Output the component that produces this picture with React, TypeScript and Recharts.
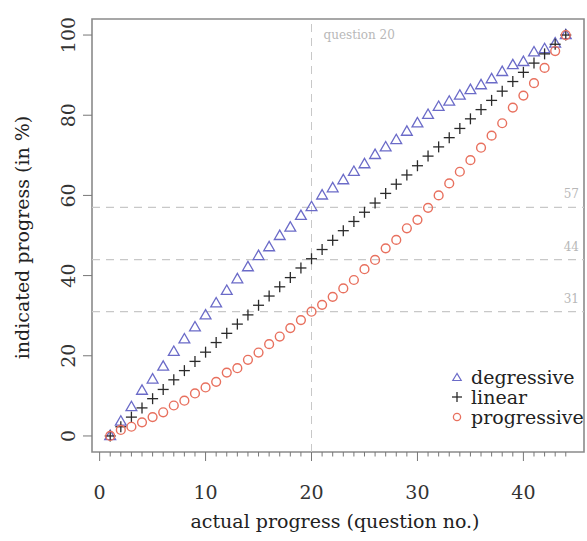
import React from 'react';
import {
  ScatterChart,
  Scatter,
  XAxis,
  YAxis,
  ReferenceLine,
  ReferenceArea,
  Legend,
} from 'recharts';

// question numbers (x)
const questions = [
  1, 2, 3, 4, 5, 6, 7, 8, 9, 10, 11, 12, 13, 14, 15, 16, 17, 18, 19, 20, 21, 22,
  23, 24, 25, 26, 27, 28, 29, 30, 31, 32, 33, 34, 35, 36, 37, 38, 39, 40, 41, 42, 43, 44,
];

// indicated progress in %
const degressive = [
  0, 3.6, 7.2, 11.3, 14.1, 17.3, 21.0, 24.1, 27.1, 30.1, 33.1, 36.2, 39.1, 42.1, 44.9,
  47.1, 49.9, 52.0, 54.9, 57.1, 60.0, 61.8, 63.8, 65.9, 67.8, 70.1, 72.0, 73.8, 75.9,
  78.0, 80.1, 82.1, 83.4, 84.9, 86.3, 87.5, 89.0, 90.8, 92.5, 93.3, 95.7, 96.5, 97.9, 100,
];
const linear = [
  0, 2.3, 4.7, 7.0, 9.3, 11.6, 14.0, 16.3, 18.6, 20.9, 23.3, 25.6, 27.9, 30.2, 32.6,
  34.9, 37.2, 39.5, 41.9, 44.2, 46.5, 48.8, 51.2, 53.5, 55.8, 58.1, 60.5, 62.8, 65.1,
  67.4, 69.8, 72.1, 74.4, 76.7, 79.1, 81.4, 83.7, 86.0, 88.4, 90.7, 93.0, 95.3, 97.7, 100,
];
const progressive = [
  0, 1.5, 2.3, 3.4, 4.7, 5.9, 7.6, 8.8, 10.6, 12.1, 13.5, 15.8, 16.9, 19.0, 20.8,
  22.9, 24.8, 26.9, 28.9, 31.0, 32.7, 34.7, 36.8, 38.9, 41.6, 43.9, 46.8, 48.9, 51.8,
  53.9, 56.9, 60.0, 63.0, 65.9, 68.8, 71.9, 74.9, 78.0, 81.9, 84.9, 88.0, 91.8, 96.0, 100,
];

// reference markers
const markQuestion = 20;
const markLevels = [57, 44, 31];

const xTicks = [
  0, 1, 2, 3, 4, 5, 6, 7, 8, 9, 10, 11, 12, 13, 14, 15, 16, 17, 18, 19, 20, 21, 22,
  23, 24, 25, 26, 27, 28, 29, 30, 31, 32, 33, 34, 35, 36, 37, 38, 39, 40, 41, 42, 43, 44,
];
const yTicks = [0, 20, 40, 60, 80, 100];

const FONT = '"DejaVu Serif", serif';
const BLUE = '#6b6bc8';
const DARK = '#2a2a2a';
const RED = '#e8705e';
const REF = '#c8c8c8';

const toPoints = (values: number[]) => questions.map((q, i) => ({ x: q, y: values[i] }));

const Triangle = (props: any) => {
  const { cx, cy } = props;
  return (
    <polygon
      points={`${cx},${cy - 5.8} ${cx - 5.4},${cy + 3.6} ${cx + 5.4},${cy + 3.6}`}
      fill="none"
      stroke={BLUE}
      strokeWidth={1.3}
    />
  );
};

const Plus = (props: any) => {
  const { cx, cy } = props;
  return (
    <g stroke={DARK} strokeWidth={1.3}>
      <line x1={cx - 5.5} x2={cx + 5.5} y1={cy} y2={cy} />
      <line x1={cx} x2={cx} y1={cy - 5.5} y2={cy + 5.5} />
    </g>
  );
};

const Ring = (props: any) => {
  const { cx, cy } = props;
  return <circle cx={cx} cy={cy} r={4.4} fill="none" stroke={RED} strokeWidth={1.4} />;
};

const XTick = (props: any) => {
  const { x, y, payload } = props;
  const major = payload.value % 10 === 0;
  return (
    <g>
      <line x1={x} x2={x} y1={y} y2={y + (major ? 9 : 4.5)} stroke="#777" strokeWidth={1} />
      {major && (
        <text x={x} y={y + 47} textAnchor="middle" fontFamily={FONT} fontSize={19} fill="#333">
          {payload.value}
        </text>
      )}
    </g>
  );
};

const YTick = (props: any) => {
  const { x, y, payload } = props;
  return (
    <g>
      <line x1={x - 9} x2={x} y1={y} y2={y} stroke="#777" strokeWidth={1} />
      <text
        x={x - 24}
        y={y}
        textAnchor="middle"
        dominantBaseline="central"
        transform={`rotate(-90, ${x - 24}, ${y})`}
        fontFamily={FONT}
        fontSize={19}
        fill="#333"
      >
        {payload.value}
      </text>
    </g>
  );
};

const legendRows = [
  { name: 'degressive', kind: 'tri' },
  { name: 'linear', kind: 'plus' },
  { name: 'progressive', kind: 'ring' },
];

const LegendBox = () => (
  <div style={{ fontFamily: FONT, fontSize: 19, color: '#222' }}>
    {legendRows.map((r) => (
      <div key={r.name} style={{ display: 'flex', alignItems: 'center', height: 20, whiteSpace: 'nowrap' }}>
        <svg width={16} height={20} style={{ marginRight: 6 }}>
          {r.kind === 'tri' && (
            <polygon points="8,6.5 3.8,13.5 12.2,13.5" fill="none" stroke={BLUE} strokeWidth={1.2} />
          )}
          {r.kind === 'plus' && (
            <g stroke={DARK} strokeWidth={1.3}>
              <line x1={3} x2={13} y1={10} y2={10} />
              <line x1={8} x2={8} y1={5} y2={15} />
            </g>
          )}
          {r.kind === 'ring' && <circle cx={8} cy={10} r={3.6} fill="none" stroke={RED} strokeWidth={1.3} />}
        </svg>
        <span style={{ lineHeight: '20px' }}>{r.name}</span>
      </div>
    ))}
  </div>
);

const levelLabel = (value: number) => (props: any) => {
  const vb = props.viewBox;
  return (
    <text x={vb.x + vb.width - 5} y={vb.y - 9} textAnchor="end" fontFamily={FONT} fontSize={12} fill="#b8b8b8">
      {value}
    </text>
  );
};

const questionLabel = (props: any) => {
  const vb = props.viewBox;
  return (
    <text x={vb.x + 12} y={vb.y + 20} fontFamily={FONT} fontSize={12} fill="#b8b8b8">
      question {markQuestion}
    </text>
  );
};

export default function App() {
  return (
    <div style={{ position: 'absolute', left: 0, top: 0, background: '#fff' }}>
      <ScatterChart width={587} height={541} margin={{ top: 19, right: 3, bottom: 29, left: 0 }}>
        <XAxis
          type="number"
          dataKey="x"
          domain={[-0.72, 45.72]}
          ticks={xTicks}
          interval={0}
          axisLine={false}
          tickLine={false}
          tickSize={0}
          tickMargin={0}
          height={60}
          tick={<XTick />}
          allowDataOverflow
          label={(props: any) => {
            const vb = props.viewBox;
            return (
              <text
                x={vb.x + vb.width / 2 - 3}
                y={vb.y + 76}
                textAnchor="middle"
                fontFamily={FONT}
                fontSize={19}
                fill="#222"
              >
                actual progress (question no.)
              </text>
            );
          }}
        />
        <YAxis
          type="number"
          dataKey="y"
          domain={[-4, 104]}
          ticks={yTicks}
          interval={0}
          axisLine={false}
          tickLine={false}
          tickSize={0}
          tickMargin={0}
          width={92}
          tick={<YTick />}
          allowDataOverflow
          label={(props: any) => {
            const vb = props.viewBox;
            const cx = 22;
            const cy = vb.y + vb.height / 2 + 2;
            return (
              <text
                x={cx}
                y={cy}
                textAnchor="middle"
                dominantBaseline="central"
                transform={`rotate(-90, ${cx}, ${cy})`}
                fontFamily={FONT}
                fontSize={19}
                fill="#222"
              >
                indicated progress (in %)
              </text>
            );
          }}
        />
        <ReferenceLine
          x={markQuestion}
          stroke={REF}
          strokeDasharray="8 6"
          strokeWidth={1}
          label={questionLabel}
        />
        {markLevels.map((v) => (
          <ReferenceLine
            key={v}
            y={v}
            stroke={REF}
            strokeDasharray="8 6"
            strokeWidth={1.2}
            label={levelLabel(v)}
          />
        ))}
        <ReferenceArea x1={-0.72} x2={45.72} y1={-4} y2={104} fill="none" stroke="#8a8a8a" strokeWidth={1.6} />
        <Scatter name="degressive" data={toPoints(degressive)} shape={<Triangle />} isAnimationActive={false} />
        <Scatter name="linear" data={toPoints(linear)} shape={<Plus />} isAnimationActive={false} />
        <Scatter name="progressive" data={toPoints(progressive)} shape={<Ring />} isAnimationActive={false} />
        <Legend
          layout="vertical"
          align="center"
          verticalAlign="middle"
          content={<LegendBox />}
          wrapperStyle={{ position: 'absolute', left: 449, top: 367, width: 140, height: 60 }}
        />
      </ScatterChart>
    </div>
  );
}
